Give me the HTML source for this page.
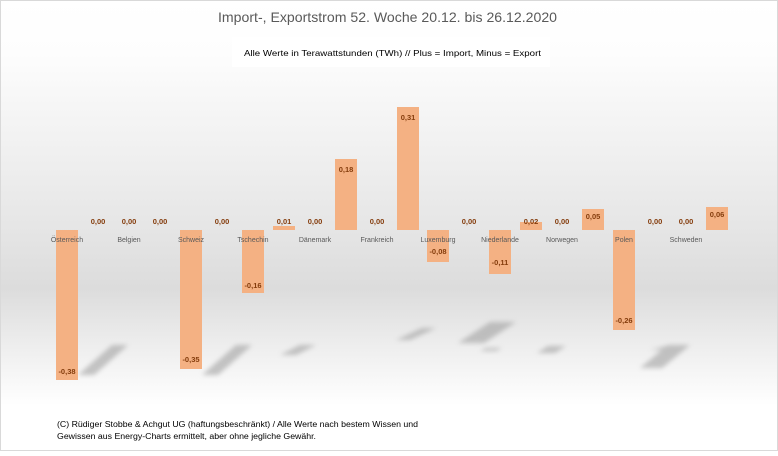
<!DOCTYPE html>
<html><head><meta charset="utf-8"><style>
html,body{margin:0;padding:0;}
body{width:778px;height:451px;overflow:hidden;}
</style></head><body>
<svg width="778" height="451" viewBox="0 0 778 451" xmlns="http://www.w3.org/2000/svg" font-family="Liberation Sans, sans-serif">
<defs>
<linearGradient id="bg" x1="0" y1="0" x2="0" y2="1">
<stop offset="0" stop-color="#ffffff"/>
<stop offset="0.12" stop-color="#fdfdfd"/>
<stop offset="0.5" stop-color="#e6e6e6"/>
<stop offset="0.64" stop-color="#dcdcdc"/>
<stop offset="0.8" stop-color="#f2f2f2"/>
<stop offset="0.9" stop-color="#ffffff"/>
<stop offset="1" stop-color="#ffffff"/>
</linearGradient>
<filter id="bl"><feGaussianBlur stdDeviation="2.5"/></filter>
</defs>
<rect x="0.5" y="0.5" width="777" height="450" fill="url(#bg)" stroke="#d9d9d9"/>
<text x="218" y="22" font-size="14" fill="#595959" textLength="339" lengthAdjust="spacingAndGlyphs">Import-, Exportstrom 52. Woche 20.12. bis 26.12.2020</text>
<rect x="232" y="37" width="318" height="30" fill="#ffffff"/>
<text x="244" y="56" font-size="8.5" fill="#000" textLength="297" lengthAdjust="spacingAndGlyphs">Alle Werte in Terawattstunden (TWh) // Plus = Import, Minus = Export</text>
<g fill="#9a9a9a" opacity="0.55" filter="url(#bl)">
<polygon points="78,375 112,345 128,345 94,375"/>
<polygon points="202,375 236,345 252,345 218,375"/>
<polygon points="280,355 300,345 316,345 296,355"/>
<polygon points="396,340 422,328 436,328 410,340"/>
<polygon points="458,343 490,322 516,322 484,343"/>
<polygon points="480,351 486,348 502,348 496,351"/>
<polygon points="537,353 548,346 566,346 555,353"/>
<polygon points="650,350 670,345 688,345 668,350"/>
<polygon points="640,368 668,345 690,345 662,368"/>
</g>
<g fill="#f4b183">
<rect x="56" y="230" width="22" height="150"/>
<rect x="180" y="230" width="22" height="139"/>
<rect x="242" y="230" width="22" height="63"/>
<rect x="273" y="226" width="22" height="4"/>
<rect x="335" y="159" width="22" height="71"/>
<rect x="397" y="107" width="22" height="123"/>
<rect x="427" y="230" width="22" height="32"/>
<rect x="489" y="230" width="22" height="44"/>
<rect x="520" y="222" width="22" height="8"/>
<rect x="582" y="209" width="22" height="21"/>
<rect x="613" y="230" width="22" height="100"/>
<rect x="706" y="207" width="22" height="23"/>
</g>
<g font-size="7" fill="#595959" text-anchor="middle">
<text x="67" y="242">Österreich</text>
<text x="129" y="242">Belgien</text>
<text x="191" y="242">Schweiz</text>
<text x="253" y="242">Tschechin</text>
<text x="315" y="242">Dänemark</text>
<text x="377" y="242">Frankreich</text>
<text x="438" y="242">Luxemburg</text>
<text x="500" y="242">Niederlande</text>
<text x="562" y="242">Norwegen</text>
<text x="624" y="242">Polen</text>
<text x="686" y="242">Schweden</text>
</g>
<g font-size="7.5" font-weight="bold" fill="#843c0c" text-anchor="middle">
<text x="67" y="374">-0,38</text>
<text x="98" y="224">0,00</text>
<text x="129" y="224">0,00</text>
<text x="160" y="224">0,00</text>
<text x="191" y="362">-0,35</text>
<text x="222" y="224">0,00</text>
<text x="253" y="288">-0,16</text>
<text x="284" y="224">0,01</text>
<text x="315" y="224">0,00</text>
<text x="346" y="172">0,18</text>
<text x="377" y="224">0,00</text>
<text x="408" y="120">0,31</text>
<text x="438" y="254">-0,08</text>
<text x="469" y="224">0,00</text>
<text x="500" y="265">-0,11</text>
<text x="531" y="224">0,02</text>
<text x="562" y="224">0,00</text>
<text x="593" y="219">0,05</text>
<text x="624" y="323">-0,26</text>
<text x="655" y="224">0,00</text>
<text x="686" y="224">0,00</text>
<text x="717" y="217">0,06</text>
</g>
<rect x="55" y="415" width="365" height="28" fill="#ffffff"/>
<g font-size="8" fill="#000">
<text x="57" y="427" textLength="361" lengthAdjust="spacingAndGlyphs">(C) Rüdiger Stobbe &amp; Achgut UG (haftungsbeschränkt) / Alle Werte nach bestem Wissen und</text>
<text x="57" y="439" textLength="259" lengthAdjust="spacingAndGlyphs">Gewissen aus Energy-Charts ermittelt, aber ohne jegliche Gewähr.</text>
</g>
</svg>
</body></html>
